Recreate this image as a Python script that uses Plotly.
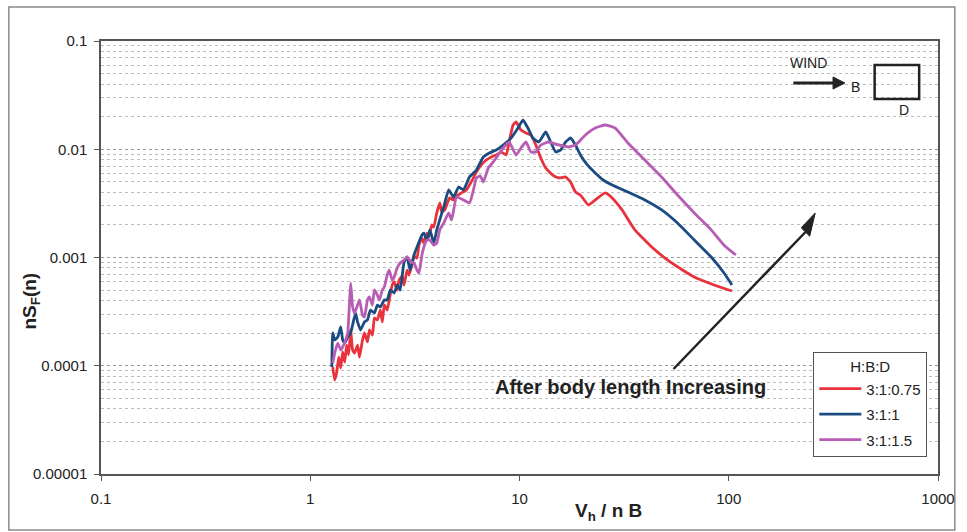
import plotly.graph_objects as go

# ---- data ----
red_x = [1.281, 1.309, 1.339, 1.368, 1.398, 1.429, 1.461, 1.493, 1.526, 1.560, 1.594, 1.629, 1.683, 1.720,
         1.777, 1.816, 1.877, 1.918, 1.982, 2.026, 2.093, 2.163, 2.210, 2.259, 2.333, 2.385, 2.464, 2.518,
         2.602, 2.660, 2.749, 2.808, 2.902, 2.966, 3.064, 3.132, 3.237, 3.307, 3.417, 3.493, 3.609, 3.689,
         3.811, 3.894, 4.024, 4.158, 4.250, 4.391, 4.488, 4.636, 4.843, 5.004, 5.285, 5.580, 5.766, 6.024,
         6.224, 6.572, 6.940, 7.328, 7.740, 8.17, 8.633, 8.920, 9.316, 9.626, 10.16, 10.74, 11.34, 11.97,
         12.64, 13.35, 14.41, 15.38, 16.60, 17.53, 18.51, 19.55, 21.33, 23.02, 25.67, 27.72, 30.90, 35.60,
         42.85, 53.29, 68.46, 85.15, 103.6]
red_y = [9.74e-5, 7.38e-5, 8.76e-5, 1.20e-4, 9.53e-5, 1.34e-4, 1.08e-4, 1.55e-4, 1.26e-4, 2.14e-4, 1.40e-4,
         1.31e-4, 1.55e-4, 1.20e-4, 1.73e-4, 2.01e-4, 1.66e-4, 2.14e-4, 1.92e-4, 2.76e-4, 2.65e-4, 3.27e-4,
         2.54e-4, 3.64e-4, 3.27e-4, 4.05e-4, 5.57e-4, 5.94e-4, 5.01e-4, 6.19e-4, 6.75e-4, 5.57e-4, 7.66e-4,
         6.89e-4, 8.52e-4, 1.03e-3, 9.89e-4, 1.30e-3, 1.51e-3, 1.36e-3, 1.68e-3, 1.55e-3, 2.00e-3, 1.91e-3,
         2.58e-3, 3.19e-3, 2.63e-3, 2.75e-3, 3.06e-3, 3.55e-3, 3.40e-3, 3.70e-3, 3.95e-3, 4.21e-3, 4.68e-3,
         5.43e-3, 6.16e-3, 7.16e-3, 7.96e-3, 8.48e-3, 8.85e-3, 9.43e-3, 8.85e-3, 1.167e-2, 1.675e-2,
         1.785e-2, 1.506e-2, 1.413e-2, 1.354e-2, 1.095e-2, 8.30e-3, 6.71e-3, 5.78e-3, 5.43e-3, 5.54e-3,
         4.99e-3, 4.03e-3, 3.78e-3, 3.06e-3, 3.40e-3, 3.95e-3, 3.55e-3, 2.75e-3, 1.80e-3, 1.25e-3, 8.90e-4,
         6.60e-4, 5.57e-4, 4.90e-4]

blue_x = [1.268, 1.281, 1.309, 1.353, 1.398, 1.429, 1.461, 1.510, 1.560, 1.594, 1.647, 1.683, 1.739, 1.816,
          1.877, 1.939, 2.026, 2.093, 2.163, 2.259, 2.333, 2.411, 2.518, 2.602, 2.689, 2.808, 2.902, 2.999,
          3.132, 3.237, 3.417, 3.493, 3.609, 3.729, 3.894, 4.024, 4.113, 4.344, 4.585, 4.843, 5.114, 5.401,
          5.766, 6.224, 6.717, 7.170, 7.740, 8.355, 9.117, 9.837, 10.39, 10.97, 11.58, 12.37, 13.35, 14.10,
          14.89, 15.72, 16.60, 17.53, 18.51, 19.55, 21.10, 23.02, 25.12, 27.72, 32.98, 39.71, 47.78, 56.89,
          68.46, 82.41, 94.96, 103.6]
blue_y = [9.74e-5, 2.01e-4, 1.73e-4, 1.84e-4, 2.28e-4, 1.73e-4, 1.62e-4, 1.84e-4, 2.01e-4, 2.38e-4, 3.07e-4,
          2.54e-4, 2.14e-4, 2.54e-4, 2.65e-4, 3.27e-4, 3.07e-4, 3.64e-4, 3.49e-4, 4.05e-4, 4.05e-4, 5.01e-4,
          4.70e-4, 5.57e-4, 5.01e-4, 9.09e-4, 1.011e-3, 7.66e-4, 1.054e-3, 1.25e-3, 1.614e-3, 1.68e-3,
          1.45e-3, 1.80e-3, 1.36e-3, 1.80e-3, 2.08e-3, 2.93e-3, 4.21e-3, 3.62e-3, 4.48e-3, 4.21e-3, 5.54e-3,
          6.43e-3, 8.48e-3, 9.23e-3, 9.84e-3, 1.095e-2, 1.270e-2, 1.571e-2, 1.863e-2, 1.571e-2, 1.270e-2,
          1.167e-2, 1.443e-2, 1.167e-2, 9.43e-3, 9.84e-3, 1.167e-2, 1.270e-2, 1.095e-2, 8.85e-3, 7.16e-3,
          6.04e-3, 5.20e-3, 4.68e-3, 4.03e-3, 3.40e-3, 2.75e-3, 2.08e-3, 1.45e-3, 1.011e-3, 7.19e-4, 5.57e-4]

purple_x = [1.281, 1.309, 1.353, 1.398, 1.429, 1.477, 1.510, 1.543, 1.560, 1.594, 1.629, 1.683, 1.720, 1.777,
            1.816, 1.877, 1.918, 1.982, 2.026, 2.093, 2.139, 2.210, 2.259, 2.333, 2.385, 2.464, 2.518, 2.602,
            2.689, 2.808, 2.902, 3.031, 3.132, 3.237, 3.307, 3.417, 3.493, 3.609, 3.729, 3.894, 4.024, 4.158,
            4.344, 4.585, 4.738, 5.004, 5.401, 5.766, 6.024, 6.224, 6.501, 6.717, 7.092, 7.490, 7.911, 8.355,
            8.920, 9.626, 10.16, 10.74, 11.34, 11.97, 12.64, 13.79, 15.38, 17.15, 18.51, 20.65, 23.02, 25.67,
            28.63, 32.98, 39.71, 47.78, 56.89, 68.46, 82.41, 94.96, 108.2]
purple_y = [1.06e-4, 1.31e-4, 1.62e-4, 1.40e-4, 1.49e-4, 1.73e-4, 2.01e-4, 4.05e-4, 5.81e-4, 3.49e-4, 3.07e-4,
            3.64e-4, 4.05e-4, 2.94e-4, 2.82e-4, 4.05e-4, 4.32e-4, 3.64e-4, 5.01e-4, 4.50e-4, 4.05e-4, 5.01e-4,
            5.34e-4, 6.89e-4, 7.66e-4, 6.19e-4, 6.60e-4, 8.00e-4, 8.90e-4, 9.48e-4, 1.011e-3, 9.09e-4, 8.90e-4,
            7.66e-4, 7.19e-4, 1.054e-3, 1.25e-3, 1.45e-3, 1.45e-3, 1.30e-3, 1.36e-3, 1.80e-3, 2.08e-3, 2.58e-3,
            2.22e-3, 3.62e-3, 3.40e-3, 3.19e-3, 4.21e-3, 5.43e-3, 5.66e-3, 4.99e-3, 6.71e-3, 7.63e-3, 8.85e-3,
            1.027e-2, 1.167e-2, 8.85e-3, 1.027e-2, 1.167e-2, 9.43e-3, 9.43e-3, 1.095e-2, 1.167e-2, 1.095e-2,
            1.049e-2, 1.095e-2, 1.354e-2, 1.571e-2, 1.675e-2, 1.571e-2, 1.142e-2, 7.96e-3, 5.54e-3, 3.78e-3,
            2.58e-3, 1.80e-3, 1.30e-3, 1.054e-3]

series_names = ["3:1:0.75", "3:1:1", "3:1:1.5"]
series_colors = ["#e8323c", "#1b4b80", "#b85db4"]

x_tick_vals = [0.1, 1, 10, 100, 1000]
x_tick_text = ["0.1", "1", "10", "100", "1000"]
y_tick_vals = [0.00001, 0.0001, 0.001, 0.01, 0.1]
y_tick_text = ["0.00001", "0.0001", "0.001", "0.01", "0.1"]

FONT = "Liberation Sans, Arial, sans-serif"
TXT = "#222222"

fig = go.Figure()
for i, (xs, ys) in enumerate([(red_x, red_y), (blue_x, blue_y), (purple_x, purple_y)]):
    fig.add_trace(go.Scatter(x=xs, y=ys, mode="lines", name=series_names[i],
                             legendgroup=series_names[i],
                             line=dict(color=series_colors[i], width=2.8, shape="spline", smoothing=0.4)))

grid_col = "#bdbdbd"
fig.update_xaxes(type="log", range=[-1, 3], tickmode="array", tickvals=x_tick_vals, ticktext=x_tick_text,
                 showgrid=False, showline=True, linecolor="#555555", linewidth=1.5, mirror=True,
                 ticks="outside", ticklen=5, tickcolor="#555555", ticklabelstandoff=5,
                 tickfont=dict(family=FONT, size=15, color=TXT), zeroline=False)
fig.update_yaxes(type="log", range=[-5, -1], tickmode="array", tickvals=y_tick_vals, ticktext=y_tick_text,
                 showgrid=True, gridcolor="#9a9a9a", griddash="dot", gridwidth=1,
                 minor=dict(dtick="D1", showgrid=True, gridcolor=grid_col, griddash="dot", gridwidth=1, ticks=""),
                 showline=True, linecolor="#555555", linewidth=1.5, mirror=True,
                 ticks="outside", ticklen=5, tickcolor="#555555", ticklabelstandoff=4,
                 tickfont=dict(family=FONT, size=15, color=TXT), zeroline=False)

fig.update_layout(
    width=967, height=532,
    margin=dict(l=101, r=21, t=41, b=58),
    paper_bgcolor="white", plot_bgcolor="white",
    font=dict(family=FONT, color=TXT),
    showlegend=True,
    legend=dict(x=0.851, y=0.282, xanchor="left", yanchor="top",
                bgcolor="white", bordercolor="#555555", borderwidth=1,
                font=dict(family=FONT, size=15, color=TXT),
                title=dict(text="H:B:D", side="top center", font=dict(family=FONT, size=15, color=TXT)),
                tracegroupgap=3, itemwidth=42),
)

C = dict(xanchor="center", yanchor="middle", showarrow=False)

# axis titles
fig.add_annotation(text="<b>nS<sub>F</sub>(n)</b>", xref="paper", yref="paper", x=-0.084, y=0.40,
                   textangle=-90, font=dict(family=FONT, size=19, color=TXT), **C)
fig.add_annotation(text="<b>V<sub>h</sub> / n B</b>", xref="paper", yref="paper", x=0.606, y=-0.088,
                   font=dict(family=FONT, size=19, color=TXT), **C)

DARK = "#222222"
# trend arrow (line + filled head) and label
fig.add_shape(type="line", xref="paper", yref="paper", x0=0.6840, y0=0.2425, x1=0.8417, y1=0.5589,
              line=dict(color=DARK, width=2.5))
fig.add_shape(type="path", xref="paper", yref="paper",
              path="M 0.8533 0.6028 L 0.8467 0.5492 L 0.8366 0.5686 Z",
              fillcolor=DARK, line=dict(color=DARK, width=1))
fig.add_annotation(text="<b>After body length Increasing</b>", xref="paper", yref="paper",
                   x=0.633, y=0.201, font=dict(family=FONT, size=20, color=TXT), **C)

# wind / body sketch
fig.add_annotation(text="WIND", xref="paper", yref="paper", x=0.845, y=0.9492,
                   font=dict(family=FONT, size=14, color=TXT), **C)
fig.add_shape(type="line", xref="paper", yref="paper", x0=0.8272, y0=0.9030, x1=0.8760, y1=0.9030,
              line=dict(color=DARK, width=2.8))
fig.add_shape(type="path", xref="paper", yref="paper",
              path="M 0.8888 0.9030 L 0.8746 0.9169 L 0.8746 0.8891 Z",
              fillcolor=DARK, line=dict(color=DARK, width=1))
fig.add_annotation(text="B", xref="paper", yref="paper", x=0.9018, y=0.8938,
                   font=dict(family=FONT, size=14, color=TXT), **C)
fig.add_annotation(text="D", xref="paper", yref="paper", x=0.9598, y=0.8406,
                   font=dict(family=FONT, size=14, color=TXT), **C)
fig.add_shape(type="rect", xref="paper", yref="paper", x0=0.9243, x1=0.9775, y0=0.8661, y1=0.9446,
              line=dict(color=DARK, width=2.5))

# outer chart frame
fig.add_shape(type="rect", xref="paper", yref="paper", x0=-0.1101, x1=1.0201, y0=-0.1293, y1=1.0785,
              line=dict(color="#8a8a8a", width=1.5), layer="below")

fig.write_html("out.html")
